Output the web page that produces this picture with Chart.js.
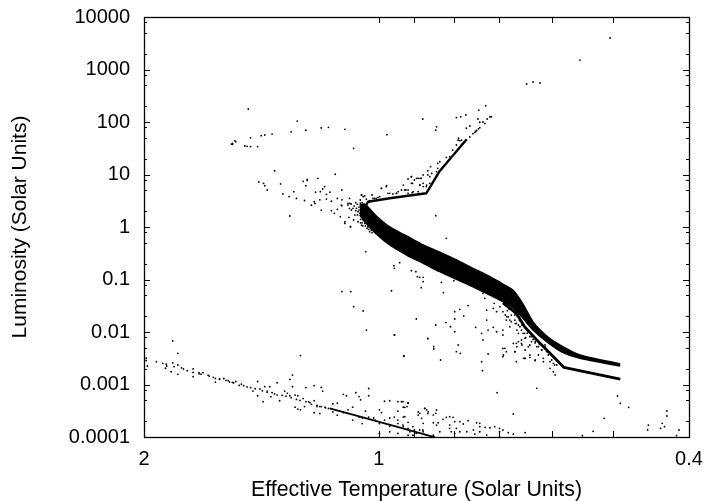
<!DOCTYPE html>
<html>
<head>
<meta charset="utf-8">
<style>html,body{margin:0;padding:0;background:#fff}canvas{display:block}</style>
<script src="https://cdn.jsdelivr.net/npm/chart.js@4"></script>
</head>
<body>
<canvas id="c" width="704" height="501"></canvas>
<script>
const xTickValues = [2, 1, 0.4];
const xTickLabels = ["2", "1", "0.4"];
const xMinorTicks = [0.9, 0.8, 0.7, 0.6, 0.5];
const yTickValues = [0.0001, 0.001, 0.01, 0.1, 1, 10, 100, 1000, 10000];
const yTickLabels = ["0.0001", "0.001", "0.01", "0.1", "1", "10", "100", "1000", "10000"];
const yMinorMultipliers = [2, 5, 8];

// main sequence band: temperature grid with the upper and lower luminosity edges
const bandTemperature = [1.058,1.042,1.007,0.968,0.921,0.877,0.835,0.795,0.757,0.72,0.693,0.672,0.653,0.634,0.609,0.583,0.552,0.49];
const bandUpper = [2.62,2.74,1.62,1.0,0.674,0.454,0.33,0.235,0.163,0.113,0.082,0.0617,0.0341,0.0155,0.0084,0.00541,0.00365,0.00246];
const bandLower = [1.7,1.26,0.736,0.454,0.293,0.204,0.141,0.101,0.0729,0.0507,0.0378,0.0283,0.0182,0.0109,0.00653,0.00421,0.00316,0.00225];

const lowerTrackT = [0.693,0.666,0.65,0.627,0.603,0.579,0.49];
const lowerTrackL = [0.0357,0.0227,0.0126,0.00704,0.00393,0.00213,0.00126];

const giantTrackT = [1.039,1.032,0.968,0.869,0.835,0.779,0.771];
const giantTrackL = [2.51,3.03,3.52,4.39,11.7,39.3,46.8];

const dwarfLineT = [1.156,1.048,0.949,0.86,0.847];
const dwarfLineL = [0.000352,0.000237,0.000157,0.000105,0.0001];

const starsUpper = [
[1.47,177],[1.272,104],[1.24,70],[1.295,65],[1.185,77],[1.16,79],[1.105,72.5],[1.37,59],[1.415,55],[1.4,56.5],[1.46,50],[1.53,44],[1.525,42],[1.54,39],[1.54,37.5],[1.545,38],[1.485,35],[1.475,34.4],[1.46,34],[1.43,34],[1.077,31.5],[0.976,57.4],[0.878,114],
[0.505,3981],[0.552,1514],[0.621,553],[0.646,530],[0.634,578],
[0.729,204],[0.744,169],[0.773,136],[0.785,126],[0.795,121],[0.717,126],[0.726,114],[0.746,114],[0.742,99],[0.731,94],[0.764,84],[0.772,76],[0.843,81],[0.845,70],[0.742,78],[0.72,125],[0.735,100],[0.791,45],[0.783,45],[0.775,42],[0.783,37.6],[0.804,29],[0.764,52],[0.753,63.7],[0.749,69],[0.751,66],[0.757,60],[0.745,74]
];
const starsSubgiant = [
[1.36,11.8],[1.137,10.1],[1.425,7.2],[1.405,6.8],[1.4,6.1],[1.39,5.07],[1.336,6.6],[1.25,7.4],[1.235,8.1],[1.235,7.7],[1.197,8.45],[1.24,6.1],[1.173,5.9],[1.18,5.3],[1.188,4.7],[1.205,4.6],[1.155,4.6],[1.167,4.2],[1.115,5.07],[1.327,4.26],[1.303,3.8],[1.285,4.7],[1.275,3.5],[1.245,3.2],[1.19,3.3],[1.167,3.4],[1.21,3.04],[1.22,2.6],[1.207,2.8],[1.15,3.1],[1.13,3.5],[1.115,3.3],[1.09,3.5],[1.095,2.8],[1.085,2.74],[1.09,2.27],[1.115,2.55],[1.13,2.17],[1.15,2.05],[1.14,1.82],[1.12,1.57],[1.185,2.1],[1.3,1.62],[1.105,1.17],[1.077,1.36],[1.087,1.01],
[1.052,4.07],[1.047,3.8],[1.037,3.4],[1.02,4.07],[1.012,3.5],[1.002,3.67],[0.992,5.46],[0.977,6.1],[0.973,4.38],[0.959,4.26],[0.949,4.38],[0.93,6.3],[0.935,5.07],[0.923,5.07],[0.917,4.38],[0.908,9.1],[0.917,8.2],[0.894,8.45],[0.885,8.45],[0.877,9.8],[0.865,11.8],[0.905,6.8],[0.885,6.3],[0.877,5.9],[0.868,6.3],[0.906,4.5],
[0.787,44],[0.795,36.5],[0.79,49],[0.811,21.9],[0.819,21.2],[0.835,17.5],[0.84,16.3],[0.858,14.1],[0.843,11.3],[0.84,13.1],[0.865,9.8],[0.86,9.1],[0.855,10.5],[0.882,8.45],[0.89,8.45],[0.908,9.1],[0.9,7.85],[0.877,6.8],[0.86,6.8],[0.908,6.8],[0.869,5.9],[0.886,6.3],[0.926,5.07],[0.944,4.7],[0.968,4.38],[0.978,5.9],[0.992,5.46],[0.949,4.38],[0.997,3.8],[0.917,5.07],[0.903,4.7],[0.89,4.7],[1.017,3.5],[1.007,3.5],[1.052,4.07],[1.042,3.9],[1.027,3.17],[1.056,3.27]
];
const starsTurnoff = [
[1.068,2.27],[1.063,1.96],[1.058,1.82],[1.052,1.57],[1.047,1.36],[1.042,1.17],[1.032,1.01],[1.022,0.877],[1.012,0.815],[1.079,2.27],[1.089,2.82],[1.095,2.62],[1.117,2.62],[1.084,2.11],[1.092,1.53],[1.105,1.26],[1.087,1.01],[1.073,1.69],[1.063,1.26],[1.052,1.09],[1.027,0.815],
[1.06,2.4],[1.065,2.7],[1.07,2.9],[1.06,2.1],[1.065,1.7],[1.055,1.4],[1.05,1.2],[1.04,1.05],[1.035,0.95],[1.07,2.05],[1.075,2.5],[1.048,1.05],[1.03,0.9],[1.02,0.78],[1.056,2.85],[1.05,2.9],[1.055,1.2]
];
const starsBelowBand = [
[0.845,1.64],[0.819,0.608],[1.039,0.339],[0.956,0.183],[0.955,0.163],[0.94,0.209],[0.915,0.28],[0.908,0.147],[0.896,0.141],[0.892,0.113],[0.886,0.11],[0.877,0.11],[0.877,0.091],[0.882,0.07],[0.831,0.088],[0.801,0.095],[0.826,0.056],[0.963,0.061],[1.086,0.059],[1.115,0.059],[1.077,0.0304],[1.047,0.0251],[1.037,0.0109],[0.954,0.00877],[0.895,0.0177],[0.865,0.00757],[0.845,0.0136],[0.85,0.00526],[0.85,0.00474],[0.929,0.00349],[0.833,0.00293],[0.82,0.0151],[0.809,0.0126],[0.799,0.0101],[0.799,0.0177],[0.799,0.0244],[0.787,0.027],[0.778,0.0202],[0.768,0.0318],[0.791,0.00565],[0.795,0.00422],[0.786,0.00393],[0.751,0.0123],[0.738,0.00944],[0.735,0.00704],[0.724,0.0109],[0.724,0.00381],[0.738,0.00272],[0.736,0.00183],[0.713,0.0123],[0.706,0.0101],[0.727,0.0169],[0.727,0.0262],[0.731,0.0438],[0.735,0.0545],[0.711,0.0352],[0.713,0.0282],[0.706,0.0244],[0.699,0.0304],[0.693,0.0244],[0.693,0.0109],[0.693,0.00877],[0.688,0.0211],[0.682,0.0194],[0.686,0.0169],[0.676,0.0157],[0.679,0.0126],[0.669,0.0169],[0.672,0.0352],[0.686,0.0327],[0.662,0.0136],[0.665,0.0109],[0.656,0.0109],[0.65,0.00944],[0.656,0.00704],[0.662,0.00654],[0.665,0.00526],[0.655,0.00565],[0.637,0.00654],[0.643,0.00526],[0.627,0.00526],[0.618,0.00454],[0.609,0.00422],[0.64,0.00365],[0.65,0.00315],[0.63,0.00293],[0.615,0.00315],[0.603,0.00272],[0.597,0.00339],[0.686,0.00422],[0.693,0.00339],[0.672,0.00606],[0.669,0.00422],[0.652,0.00315],[0.597,0.00175],[0.595,0.00235],[0.693,0.00486],
[0.676,0.021],[0.67,0.0235],[0.665,0.0205],[0.66,0.0165],[0.668,0.0145],[0.655,0.0135],[0.648,0.0118],[0.645,0.0095],[0.64,0.0082],[0.648,0.0078],[0.634,0.0072],[0.63,0.0062],[0.622,0.0058],[0.612,0.0052],[0.68,0.027],[0.69,0.038],[0.675,0.03],[0.684,0.0255],[0.7,0.042],[0.71,0.047],
[0.685,0.0196],[0.679,0.0169],[0.669,0.0211],[0.666,0.0146],[0.659,0.0126],[0.662,0.00944],[0.653,0.00944],[0.649,0.00757],[0.643,0.0101],[0.637,0.00815],[0.656,0.00608],[0.649,0.00454],[0.64,0.00565],[0.63,0.00654],[0.624,0.00526],[0.618,0.00454],[0.612,0.00565],[0.606,0.00365],[0.6,0.00293],[0.597,0.00253],[0.591,0.00235],[0.624,0.00365],[0.615,0.00272],[0.603,0.00203],[0.594,0.00152],[0.63,0.00284],[0.649,0.00315],[0.64,0.00329],[0.666,0.00608],[0.669,0.00422],[0.689,0.00489],[0.692,0.00365],[0.666,0.00272]
];
const starsDwarfLeft = [
[1.987,0.00316],[1.987,0.00285],[1.98,0.00225],[1.928,0.00272],[1.892,0.00253],[1.873,0.00243],[1.877,0.00204],[1.846,0.00175],[1.837,0.00258],[1.83,0.00219],[1.81,0.00235],[1.79,0.00208],[1.78,0.00198],[1.81,0.00156],[1.76,0.00183],[1.73,0.00198],[1.73,0.0017],[1.73,0.00141],[1.7,0.00168],[1.69,0.00157],[1.68,0.00168],[1.655,0.00151],[1.63,0.00137],[1.62,0.0013],[1.62,0.00111],[1.58,0.0013],[1.6,0.00125],[1.56,0.00118],[1.553,0.00111],[1.525,0.00114],[1.54,0.0011],[1.5,0.00101],[1.49,0.00095],[1.46,0.00087],[1.45,0.00075],[1.43,0.00114],[1.42,0.00082],[1.43,0.00061],[1.407,0.00047],[1.4,0.00091],[1.38,0.00091],[1.39,0.00075],[1.375,0.000586],[1.37,0.0007],[1.35,0.00108],[1.35,0.00063],[1.34,0.00049],[1.32,0.00075],[1.31,0.00068],[1.3,0.00125],[1.29,0.00151],[1.29,0.00091],[1.3,0.00061],[1.28,0.00063],[1.27,0.00061],[1.25,0.00054],[1.28,0.00037],[1.27,0.00034],[1.26,0.00033],[1.245,0.00038],[1.24,0.00087],[1.21,0.00095],[1.185,0.00088],[1.18,0.00075],[1.11,0.00065],[1.1,0.00061],[1.07,0.0007],[1.06,0.00059],[1.055,0.00051],[1.03,0.00084],[1.03,0.00061],[0.928,0.00345],[1.26,0.00355],[1.81,0.00392],[1.837,0.00675],[0.955,0.0088],[0.865,0.0074],
[1.23,0.00047],[1.22,0.00042],[1.21,0.00049],[1.2,0.00038],[1.19,0.00038],[1.21,0.00029],[1.19,0.00028],[1.17,0.00036],[1.145,0.00043],[1.13,0.00044],[1.145,0.0003],[1.13,0.00026],[1.11,0.00029],[1.095,0.00033],[1.08,0.00037],[1.08,0.00021],[1.06,0.00024],[1.05,0.00023],[1.05,0.00018],[1.04,0.00031],[1.03,0.00024],[1.015,0.00023],[1.01,0.00021],[0.998,0.00018],[0.983,0.00021],[0.968,0.00023],[0.955,0.00024],[0.945,0.00021],[0.945,0.00031],[0.93,0.00024],[0.917,0.00019],
[1.51,0.00096],[1.475,0.0009],[1.44,0.00083],[1.41,0.00076],[1.39,0.00071],[1.36,0.00066],[1.33,0.00062],[1.315,0.0006],[1.295,0.00056],[1.275,0.00052],[1.262,0.0005],[1.24,0.00047],[1.225,0.00045],[1.2,0.0004],[1.185,0.00038],[1.172,0.00037],[1.16,0.00035],[1.87,0.00225],[1.7,0.0016],[1.65,0.00145],[1.6,0.00128],[1.57,0.0012],[1.535,0.00107]
];
const starsDwarfRight = [
[0.983,0.00048],[0.968,0.00049],[0.945,0.00047],[0.935,0.00047],[0.917,0.00045],[0.998,0.00033],[0.992,0.00029],[0.93,0.00037],[0.92,0.00038],[0.89,0.0003],[0.873,0.00035],[0.868,0.00033],[0.865,0.00028],[0.998,0.000117],[0.968,0.000126],[0.945,0.000117],[0.93,0.000157],[0.917,0.000108],[0.904,0.000108],[0.9,0.000136],[0.878,0.000136],[0.968,0.00016],[0.945,0.00018],
[0.931,0.000471],[0.917,0.000438],[0.926,0.000367],[0.873,0.000351],[0.886,0.000282],[0.864,0.000304],[0.843,0.000327],[0.851,0.000262],[0.845,0.000282],[0.926,0.000244],[0.89,0.000262],[0.881,0.000227],[0.851,0.000187],[0.843,0.000169],[0.811,0.000244],[0.819,0.000237],[0.803,0.000237],[0.827,0.000217],[0.811,0.000169],[0.799,0.000196],[0.787,0.000196],[0.768,0.000205],[0.779,0.000177],[0.795,0.000146],[0.811,0.000146],[0.749,0.000187],[0.742,0.000182],[0.742,0.000157],[0.73,0.000152],[0.72,0.00015],[0.71,0.000157],[0.7,0.000146],[0.693,0.000136],[0.682,0.000121],[0.787,0.000126],[0.799,0.000117],[0.771,0.000126],[0.742,0.000126],[0.727,0.000109],[0.756,0.000136],[0.7,0.000126],[0.835,0.000126],[0.851,0.000109],[0.877,0.000126],[0.904,0.000157],[0.917,0.000146],[0.931,0.000169],[0.886,0.000136],[0.912,0.000126],[0.895,0.000117],[0.649,0.000121],[0.839,0.000187],[0.877,0.000182],[0.807,0.000126],[0.672,0.000113],[0.753,0.000113],
[0.627,0.000845],[0.705,0.000699],[0.672,0.000274],[0.494,0.000604],[0.49,0.000438],[0.478,0.000367],[0.514,0.000227],[0.427,0.000313],[0.427,0.000251],[0.451,0.000169],[0.452,0.000136],[0.433,0.000182],[0.43,0.000157],[0.435,0.000146],[0.412,0.000136],[0.531,0.000128],[0.548,0.000106],[0.415,0.000106]
];

const toPoints = (xs, ys) => xs.map((x, i) => ({x, y: ys[i]}));
const toStars = rows => rows.map(r => ({x: r[0], y: r[1]}));
const FONT = "'Liberation Sans', Arial, sans-serif";

const starDs = rows => ({data: toStars(rows), showLine: false, pointRadius: 0.9, pointBackgroundColor: '#000', pointBorderWidth: 0});
const lineDs = (xs, ys, w) => ({data: toPoints(xs, ys), showLine: true, borderColor: '#000', borderWidth: w, pointRadius: 0, fill: false, tension: 0, borderJoinStyle: 'round', borderCapStyle: 'butt'});

const frameTicks = {
  id: 'frameTicks',
  afterDatasetsDraw(chart) {
    const {ctx, chartArea: a, scales: {x, y}} = chart;
    const tick = (x0, y0, x1, y1) => { ctx.moveTo(x0, y0); ctx.lineTo(x1, y1); };
    ctx.save();
    ctx.strokeStyle = '#000';
    ctx.lineWidth = 1;
    ctx.beginPath();
    xTickValues.concat(xMinorTicks).forEach(v => {
      const px = Math.round(x.getPixelForValue(v)) + 0.5;
      tick(px, a.bottom, px, a.bottom - 6);
      tick(px, a.top, px, a.top + 6);
    });
    yTickValues.forEach(v => {
      const py = Math.round(y.getPixelForValue(v)) + 0.5;
      tick(a.left, py, a.left + 6, py);
      tick(a.right, py, a.right - 6, py);
      if (v < 10000) yMinorMultipliers.forEach(m => {
        const q = Math.round(y.getPixelForValue(v * m)) + 0.5;
        tick(a.left, q, a.left + 3, q);
        tick(a.right, q, a.right - 3, q);
      });
    });
    ctx.stroke();
    ctx.lineWidth = 1.3;
    ctx.strokeRect(a.left + 0.5, a.top + 0.5, a.right - a.left, a.bottom - a.top);
    ctx.restore();
  }
};

new Chart(document.getElementById('c'), {
  type: 'scatter',
  plugins: [frameTicks],
  data: {
    datasets: [
      Object.assign(lineDs(bandTemperature, bandUpper, 1.5), {fill: '+1', backgroundColor: '#000', tension: 0.25}),
      Object.assign(lineDs(bandTemperature, bandLower, 1.5), {tension: 0.25}),
      lineDs(lowerTrackT, lowerTrackL, 2.8),
      lineDs(giantTrackT, giantTrackL, 2.4),
      lineDs(dwarfLineT, dwarfLineL, 1.8),
      starDs(starsUpper), starDs(starsSubgiant), starDs(starsTurnoff),
      starDs(starsBelowBand), starDs(starsDwarfLeft), starDs(starsDwarfRight)
    ]
  },
  options: {
    responsive: false,
    animation: false,
    devicePixelRatio: 1,
    layout: {padding: {left: 0, top: 17, right: 15, bottom: 0}},
    plugins: {legend: {display: false}, title: {display: false}, tooltip: {enabled: false}},
    scales: {
      x: {
        type: 'logarithmic', reverse: true, min: 0.4, max: 2,
        grid: {display: false, drawTicks: false, tickLength: 0}, border: {display: false},
        title: {display: true, text: 'Effective Temperature (Solar Units)', color: '#000', font: {family: FONT, size: 21.3, lineHeight: 1}, padding: {top: 7, bottom: 0}},
        ticks: {color: '#000', font: {family: FONT, size: 20}, autoSkip: false, maxRotation: 0, padding: 10, callback: v => { const i = xTickValues.indexOf(v); return i < 0 ? '' : xTickLabels[i]; }},
        afterBuildTicks(s) { s.ticks = xTickValues.map(value => ({value, major: true})); },
        afterFit(s) { s.height = 64; s.paddingLeft = 0; s.paddingRight = 0; }
      },
      y: {
        type: 'logarithmic', min: 0.0001, max: 10000,
        grid: {display: false, drawTicks: false, tickLength: 0}, border: {display: false},
        title: {display: true, text: 'Luminosity (Solar Units)', color: '#000', font: {family: FONT, size: 21}, padding: {top: 8, bottom: 0}},
        ticks: {color: '#000', font: {family: FONT, size: 20}, autoSkip: false, padding: 14, callback: v => { const i = yTickValues.indexOf(v); return i < 0 ? '' : yTickLabels[i]; }},
        afterBuildTicks(s) { s.ticks = yTickValues.map(value => ({value, major: true})); },
        afterFit(s) { s.width = 144; s.paddingTop = 0; s.paddingBottom = 0; }
      }
    }
  }
});
</script>
</body>
</html>
